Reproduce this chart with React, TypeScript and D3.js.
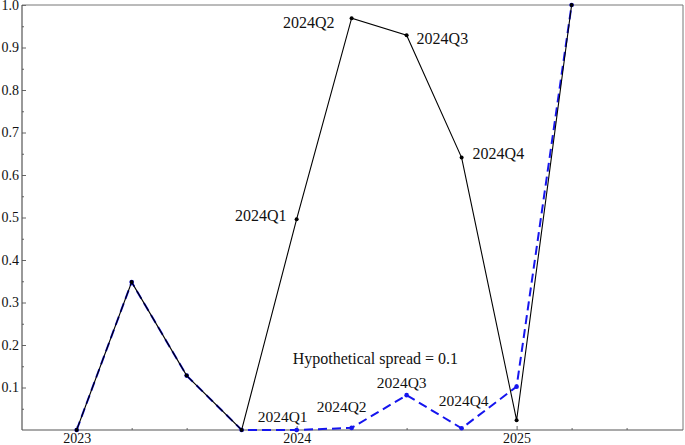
import React, { useEffect, useRef } from "react";
import * as d3 from "d3";

const quarters = ["2023Q1", "2023Q2", "2023Q3", "2023Q4", "2024Q1", "2024Q2", "2024Q3", "2024Q4", "2025Q1", "2025Q2"];
const quarterTimes = [2023, 2023.25, 2023.5, 2023.75, 2024, 2024.25, 2024.5, 2024.75, 2025, 2025.25];
const actualValues = [0, 0.348, 0.128, 0, 0.496, 0.969, 0.929, 0.641, 0.023, 1.0];
const hypotheticalValues = [0, 0.348, 0.128, 0, 0, 0.005, 0.082, 0.004, 0.102, 1.0];
const labelledQuarters = ["2024Q1", "2024Q2", "2024Q3", "2024Q4"];
const yTickValues = [0.1, 0.2, 0.3, 0.4, 0.5, 0.6, 0.7, 0.8, 0.9, 1.0];
const xTickValues = [2023, 2024, 2025];
const annotationText = "Hypothetical spread = 0.1";

const W = 685;
const H = 445;
const left = 22;
const right = 683;
const top = 5;
const bottom = 430;
const FONT = "Liberation Serif, Tinos, Times New Roman, DejaVu Serif, serif";

export default function App() {
  const axRef = useRef<SVGGElement>(null);
  const x = d3.scaleLinear().domain([2022.7515, 2025.7564]).range([left, right]);
  const y = d3.scaleLinear().domain([0, 1]).range([bottom, top]);

  useEffect(() => {
    const g = d3.select(axRef.current);
    g.selectAll("*").remove();
    const style = (sel: any) => {
      sel.attr("font-family", FONT).attr("font-size", 14);
      sel.select(".domain").remove();
      sel.selectAll("line").attr("stroke", "#666");
      sel.selectAll("text").attr("fill", "#111").attr("font-family", FONT).style("font-family", FONT).style("font-size", "14px");
    };
    g.append("g")
      .attr("transform", `translate(${left},0)`)
      .call(d3.axisLeft(y).tickValues(yTickValues).tickSize(-4).tickPadding(3).tickFormat(d3.format(".1f")))
      .call(style);
    const yMinor = d3.range(0.05, 1.0, 0.1);
    g.append("g")
      .attr("transform", `translate(${left},0)`)
      .call(d3.axisLeft(y).tickValues(yMinor).tickSize(-2).tickFormat(() => ""))
      .call(style);
    g.append("g")
      .attr("transform", `translate(0,${bottom})`)
      .call(d3.axisBottom(x).tickValues(xTickValues).tickSize(-4).tickPadding(3).tickFormat(d3.format("d")))
      .call(style);
    const xMinor = [2023.25, 2023.5, 2023.75, 2024.25, 2024.5, 2024.75, 2025.25, 2025.5];
    g.append("g")
      .attr("transform", `translate(0,${bottom})`)
      .call(d3.axisBottom(x).tickValues(xMinor).tickSize(-2).tickFormat(() => ""))
      .call(style);
  }, []);

  const line = d3
    .line<number>()
    .x((_, i) => x(quarterTimes[i]))
    .y((d) => y(d));

  const blackOffsets: Record<string, [number, number, string]> = {
    "2024Q1": [-10, 2, "end"],
    "2024Q2": [-17, 10, "end"],
    "2024Q3": [10, 9, "start"],
    "2024Q4": [11, 1, "start"],
  };
  const blueOffsets: Record<string, [number, number]> = {
    "2024Q1": [-14, -8],
    "2024Q2": [-10, -16],
    "2024Q3": [-5, -7],
    "2024Q4": [2, -22],
  };

  return (
    <svg
      width={W}
      height={H}
      style={{ position: "absolute", left: 0, top: 0, background: "#fff", fontFamily: FONT }}
      fontFamily={FONT}
    >
      <rect x={0} y={0} width={W} height={H} fill="#fff" />
      <g ref={axRef} />
      <line x1={left} x2={right} y1={top} y2={top} stroke="#777" strokeWidth={1} />
      <line x1={right} x2={right} y1={top} y2={bottom} stroke="#777" strokeWidth={1} />
      <line x1={left} x2={left} y1={top} y2={bottom} stroke="#555" strokeWidth={1.2} />
      <line x1={left} x2={right} y1={bottom} y2={bottom} stroke="#555" strokeWidth={1.2} />

      {/* hypothetical series */}
      <path
        d={line(hypotheticalValues) || ""}
        fill="none"
        stroke="#1515ee"
        strokeWidth={2}
        strokeDasharray="9,5"
      />
      {hypotheticalValues.map((v, i) => (
        <circle key={"h" + i} cx={x(quarterTimes[i])} cy={y(v)} r={2.3} fill="#1515ee" />
      ))}

      {/* actual series */}
      <path d={line(actualValues) || ""} fill="none" stroke="#000" strokeWidth={1.1} />
      {actualValues.map((v, i) => (
        <circle key={"a" + i} cx={x(quarterTimes[i])} cy={y(v)} r={2} fill="#000" />
      ))}

      {labelledQuarters.map((q) => {
        const i = quarters.indexOf(q);
        const [dx, dy, anchor] = blackOffsets[q];
        return (
          <text
            key={"la" + q}
            x={x(quarterTimes[i]) + dx}
            y={y(actualValues[i]) + dy}
            textAnchor={anchor}
            fontSize={16}
            fill="#111"
            style={{ fontFamily: FONT }}
          >
            {q}
          </text>
        );
      })}
      {labelledQuarters.map((q) => {
        const i = quarters.indexOf(q);
        const [dx, dy] = blueOffsets[q];
        return (
          <text
            key={"lh" + q}
            x={x(quarterTimes[i]) + dx}
            y={y(hypotheticalValues[i]) + dy}
            textAnchor="middle"
            fontSize={15.5}
            fill="#111"
            style={{ fontFamily: FONT }}
          >
            {q}
          </text>
        );
      })}
      <text x={x(2023.982)} y={y(0.155)} fontSize={16} fill="#111" style={{ fontFamily: FONT }}>
        {annotationText}
      </text>
    </svg>
  );
}
